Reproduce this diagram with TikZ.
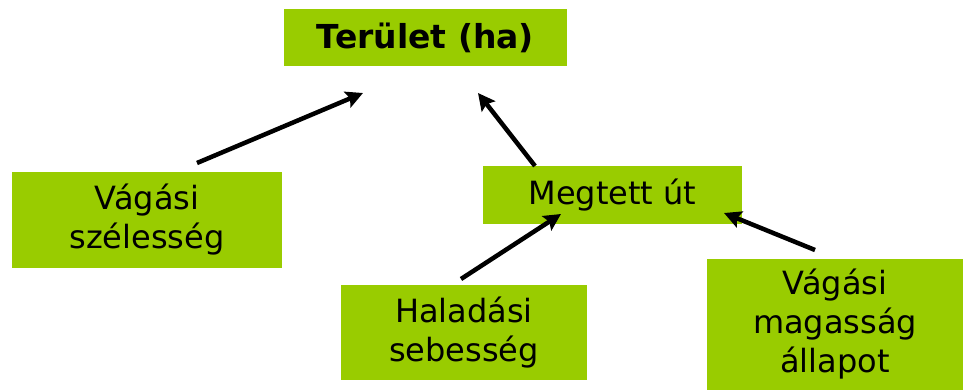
\documentclass[tikz,border=0pt]{standalone}
\usepackage{fontspec}
\setmainfont{DejaVu Sans}
\usetikzlibrary{arrows.meta}
\definecolor{boxgreen}{HTML}{99CC00}
\begin{document}
\begin{tikzpicture}[x=1pt,y=-1pt,
  gbox/.style={fill=boxgreen, draw=none, inner sep=0pt, align=center,
    font=\fontsize{32}{39}\selectfont},
  conn/.style={line width=4.5pt, -{Stealth[length=17pt,width=17pt,inset=3pt]}}]
\useasboundingbox (0,0) rectangle (963,391);
\node[gbox, minimum width=283pt, minimum height=57pt, font=\fontsize{33}{39}\selectfont\bfseries] (ter) at (425.5,37.5) {Terület (ha)};
\node[gbox, minimum width=270pt, minimum height=96pt] (vsz) at (147,220) {Vágási\\szélesség};
\node[gbox, minimum width=259pt, minimum height=58pt] (meg) at (612.5,195) {Megtett út};
\node[gbox, minimum width=246pt, minimum height=95pt] (hal) at (464,332.5) {Haladási\\sebesség};
\node[gbox, minimum width=256pt, minimum height=131pt] (vma) at (835,324.5) {Vágási\\magasság\\állapot};
\coordinate (a1s) at (197,163); \coordinate (a1e) at (363,93);
\coordinate (a2s) at (535,166); \coordinate (a2e) at (478,93);
\coordinate (a3s) at (461,279); \coordinate (a3e) at (561,214);
\coordinate (a4s) at (815,250); \coordinate (a4e) at (724,213);
\draw[conn] (a1s) -- (a1e);
\draw[conn] (a2s) -- (a2e);
\draw[conn] (a3s) -- (a3e);
\draw[conn] (a4s) -- (a4e);
\end{tikzpicture}
\end{document}
